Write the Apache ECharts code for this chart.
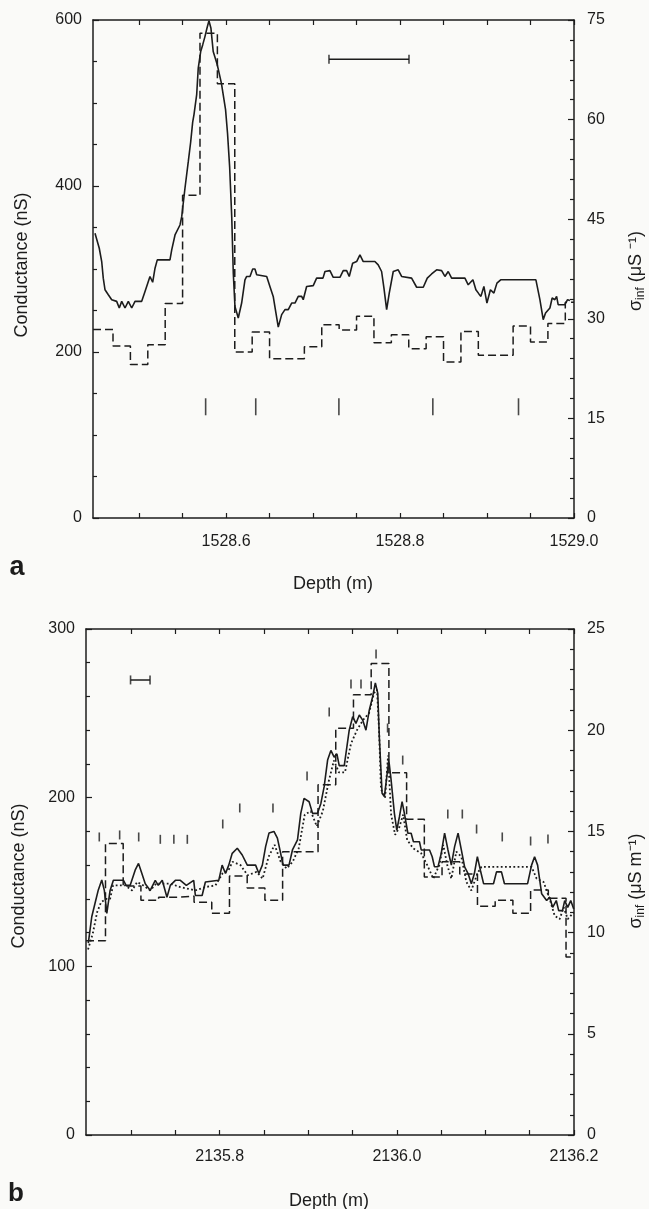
<!DOCTYPE html>
<html><head><meta charset="utf-8">
<script src="https://cdn.jsdelivr.net/npm/echarts@6/dist/echarts.min.js"></script>
<style>html,body{margin:0;padding:0;background:#fafaf8;}#c{width:649px;height:1209px;}</style>
</head><body><div id="c"></div>
<script>
// ---------- Panel a data ----------
const A_X_MIN = 1528.447, A_X_MAX = 1529.0;
const A_X_TICKS = [1528.5,1528.55,1528.6,1528.65,1528.7,1528.75,1528.8,1528.85,1528.9,1528.95,1529.0];
const A_X_LABELS = [1528.6,1528.8,1529.0];
// high-resolution conductance (nS)
const SOLID_A = [
[1528.4493,343],[1528.4513,341],[1528.4542,325],[1528.4570,309],[1528.4588,289],[1528.4608,275],[1528.4646,269],[1528.4685,263],[1528.4742,261],[1528.4772,253],
[1528.4800,261],[1528.4838,253],[1528.4876,261],[1528.4915,253],[1528.4953,261],[1528.5030,261],[1528.5068,273],[1528.5106,285],[1528.5125,291],[1528.5156,284],
[1528.5183,301],[1528.5209,311],[1528.5355,311],[1528.5375,323],[1528.5413,341],[1528.5470,353],[1528.5490,363],[1528.5527,397],[1528.5565,429],[1528.5593,453],
[1528.5616,477],[1528.5631,486],[1528.5662,510],[1528.5680,542],[1528.5708,562],[1528.5731,570],[1528.5757,580],[1528.5780,590],[1528.5803,599],[1528.5826,590],
[1528.5852,562],[1528.5899,546],[1528.5946,524],[1528.5994,492],[1528.6017,463],[1528.6041,423],[1528.6065,363],[1528.6083,295],[1528.6102,255],[1528.6140,241],
[1528.6160,241],[1528.6179,259],[1528.6217,287],[1528.6237,291],[1528.6275,291],[1528.6306,300],[1528.6332,300],[1528.6352,293],[1528.6467,291],[1528.6504,279],
[1528.6542,267],[1528.6573,247],[1528.6600,230],[1528.6639,245],[1528.6677,251],[1528.6715,251],[1528.6754,259],[1528.6792,259],[1528.6830,267],[1528.6869,267],
[1528.6887,263],[1528.6926,279],[1528.7002,280],[1528.7041,289],[1528.7114,289],[1528.7137,297],[1528.7194,298],[1528.7232,290],[1528.7309,290],[1528.7347,298],
[1528.7386,298],[1528.7416,291],[1528.7455,307],[1528.7501,309],[1528.7539,317],[1528.7559,318],[1528.7577,309],[1528.7711,309],[1528.7749,305],[1528.7788,297],
[1528.7815,277],[1528.7846,251],[1528.7876,271],[1528.7922,297],[1528.7979,299],[1528.8018,291],[1528.8133,289],[1528.8191,278],[1528.8267,278],[1528.8313,289],
[1528.8363,294],[1528.8421,299],[1528.8478,298],[1528.8516,291],[1528.8554,297],[1528.8593,289],[1528.8746,289],[1528.8784,281],[1528.8803,280],[1528.8838,287],
[1528.8872,275],[1528.8907,270],[1528.8930,267],[1528.8964,279],[1528.8999,259],[1528.9039,275],[1528.9079,271],[1528.9114,283],[1528.9157,287],[1528.9562,287],
[1528.9608,263],[1528.9646,239],[1528.9673,247],[1528.9723,253],[1528.9749,265],[1528.9780,263],[1528.9800,267],[1528.9818,257],[1528.9895,257],[1528.9926,263],
[1528.9953,262]
];
// 2 cm sigma_inf steps (µS m-1): start depth of each step
const DASH_A_START = [1528.447,1528.47,1528.49,1528.51,1528.53,1528.55,1528.57,1528.59,1528.61,1528.63,1528.65,1528.67,1528.69,1528.71,
  1528.73,1528.75,1528.77,1528.79,1528.81,1528.83,1528.85,1528.87,1528.89,1528.91,1528.93,1528.95,1528.97,1528.99];
const DASH_A_SIGMA = [28.4,25.9,23.1,26.1,32.3,48.6,73.0,65.4,25.0,28.0,24.0,24.0,25.8,29.1,
  28.3,30.4,26.4,27.6,25.5,27.3,23.5,28.1,24.5,24.5,28.9,26.5,29.3,32.5];
const MARK_A = [[1528.5765,134],[1528.6341,134],[1528.7297,134],[1528.8377,134],[1528.9362,134]];
const ERR_A = [[1528.7183,552.6],[1528.8103,552.6]];

// ---------- Panel b data ----------
const B_X_MIN = 2135.649, B_X_MAX = 2136.2;
const B_X_TICKS = [2135.7,2135.75,2135.8,2135.85,2135.9,2135.95,2136.0,2136.05,2136.1,2136.15,2136.2];
const B_X_LABELS = [2135.8,2136.0,2136.2];
const SOLID_B = [
[2135.6516,113.7],[2135.6555,129.4],[2135.6592,137.4],[2135.6629,145.3],[2135.6668,151.2],[2135.6697,145],[2135.6725,131.4],[2135.6762,145],[2135.6799,151],[2135.6913,151],
[2135.6943,148],[2135.6989,148],[2135.7045,157],[2135.7083,161],[2135.7121,155],[2135.7159,149],[2135.7215,145],[2135.7272,151],[2135.7306,148],[2135.7351,151],
[2135.7404,141],[2135.7442,148],[2135.7499,151],[2135.7555,151],[2135.7623,148],[2135.7706,151],[2135.7725,142],[2135.7801,142],[2135.7838,150],[2135.7989,151],
[2135.8027,160],[2135.8065,155],[2135.8102,160],[2135.8141,167],[2135.8198,170],[2135.8254,166],[2135.8311,160],[2135.8405,160],[2135.8442,155],[2135.8481,160],
[2135.8518,171],[2135.8556,179],[2135.8612,180],[2135.8651,176],[2135.8688,167],[2135.8714,160],[2135.8782,160],[2135.8821,169],[2135.8878,175],[2135.8915,190.7],
[2135.8952,199.6],[2135.9009,197.6],[2135.9048,190.7],[2135.9104,190.7],[2135.9142,196.6],[2135.9179,206.5],[2135.9218,222.3],[2135.9255,228],[2135.9292,224],[2135.9323,226],
[2135.9349,219],[2135.9406,219],[2135.9462,240],[2135.9501,248],[2135.9538,244],[2135.9576,249],[2135.9614,246],[2135.9651,240],[2135.9689,252],[2135.9727,260],
[2135.9757,268],[2135.9784,262],[2135.9802,236],[2135.9833,202.6],[2135.9859,200.6],[2135.9886,212.4],[2135.9909,222.3],[2135.9935,210.5],[2135.9972,190.7],[2135.9999,180.8],
[2136.0029,188.7],[2136.0059,197.6],[2136.0085,190.7],[2136.0124,178.9],[2136.0161,178.9],[2136.0187,173.9],[2136.0255,173.9],[2136.0275,169],[2136.0369,169],[2136.0399,165],
[2136.0425,159],[2136.0464,159],[2136.0501,167],[2136.0539,179],[2136.0577,169],[2136.0615,160],[2136.0652,171],[2136.0691,179],[2136.0728,169],[2136.0765,159],
[2136.0804,155],[2136.0841,149],[2136.0875,155],[2136.0909,165],[2136.0943,157],[2136.0979,149],[2136.1091,149],[2136.1125,156],[2136.1181,156],[2136.1215,149],
[2136.1476,149],[2136.1521,160],[2136.1555,165],[2136.1589,160],[2136.1635,143],[2136.1691,139],[2136.1725,141],[2136.1759,135],[2136.1800,139],[2136.1827,133],
[2136.1870,133],[2136.1895,139],[2136.1929,135],[2136.1963,139],[2136.1997,134]
];
const DOT_B = [
[2135.6513,110],[2135.6569,120],[2135.6615,132],[2135.6660,138],[2135.6717,140],[2135.6762,140],[2135.6796,148],[2135.6932,148],[2135.7011,145],[2135.7068,150],
[2135.7136,148],[2135.7215,145],[2135.7283,149],[2135.7442,149],[2135.7555,147],[2135.7725,145],[2135.7838,147],[2135.7952,148],[2135.8031,155],[2135.8099,157],
[2135.8144,162],[2135.8235,160],[2135.8314,154],[2135.8416,156],[2135.8484,152],[2135.8552,165],[2135.8620,172],[2135.8688,162],[2135.8756,158],[2135.8824,162],
[2135.8892,170],[2135.8960,190],[2135.9028,192],[2135.9096,183],[2135.9164,192],[2135.9232,210],[2135.9289,222],[2135.9346,215],[2135.9414,215],[2135.9482,232],
[2135.9549,240],[2135.9617,246],[2135.9685,250],[2135.9742,262],[2135.9776,264],[2135.9799,240],[2135.9821,205],[2135.9867,200],[2135.9901,225],[2135.9935,190],
[2135.9980,178],[2136.0025,182],[2136.0071,190],[2136.0116,175],[2136.0184,170],[2136.0275,167],[2136.0343,160],[2136.0411,152],[2136.0479,160],[2136.0524,172],
[2136.0569,160],[2136.0615,152],[2136.0671,168],[2136.0728,165],[2136.0785,150],[2136.0841,145],[2136.0909,155],[2136.0955,159],[2136.1521,159],[2136.1578,152],
[2136.1657,150],[2136.1725,140],[2136.1782,130],[2136.1838,128],[2136.1884,135],[2136.1929,128],[2136.1997,132]
];
const DASH_B_START = [2135.649,2135.671,2135.691,2135.711,2135.731,2135.751,2135.771,2135.791,2135.811,2135.831,2135.851,2135.871,2135.891,2135.911,
  2135.931,2135.951,2135.971,2135.991,2136.011,2136.031,2136.051,2136.071,2136.091,2136.111,2136.131,2136.151,2136.171,2136.191];
const DASH_B_SIGMA = [9.6,14.4,12.3,11.6,11.75,11.8,11.5,10.95,12.8,12.2,11.6,14.0,14.0,17.3,
  20.1,21.75,23.3,17.9,15.6,12.75,13.5,12.9,11.3,11.6,10.95,12.1,11.7,8.8];
const MARK_B = [[2135.664,176.7],[2135.687,177.9],[2135.7085,176.7],[2135.7329,175.3],[2135.7482,175.3],[2135.7634,175.3],[2135.8034,184.4],[2135.8226,193.9],
  [2135.8601,193.9],[2135.8986,212.9],[2135.9236,250.8],[2135.9482,267.4],[2135.9595,267.4],[2135.9765,285.2],[2135.9895,241.3],[2136.0066,222.3],
  [2136.0575,190.3],[2136.0739,190.3],[2136.09,181.4],[2136.119,176.7],[2136.151,174.3],[2136.1706,175.5]];
const ERR_B = [[2135.6993,269.8],[2135.7213,269.8]];

// ---------- chart ----------
const INK = '#1c1c1c';
const FONT = '"Liberation Sans", Arial, Helvetica, sans-serif';
const axLine = {show:true, onZero:false, lineStyle:{color:INK, width:1.5}};

function stepData(starts, vals, xmax){
  const d = starts.map((s,i)=>[s, vals[i]]);
  d.push([xmax, vals[vals.length-1]]);
  return d;
}
function xAxes(gi, min, max, ticks, labels, margin){
  const base = {type:'value', gridIndex:gi, min, max, axisLine:axLine, splitLine:{show:false}};
  return [
    Object.assign({}, base, {position:'bottom',
      axisTick:{show:true, inside:true, length:5, customValues:ticks, lineStyle:{color:INK,width:1.2}},
      axisLabel:{show:true, customValues:labels, formatter:v=>Number(v).toFixed(1), margin, fontSize:16, fontFamily:FONT, color:INK}}),
    Object.assign({}, base, {position:'top',
      axisTick:{show:true, inside:true, length:5, customValues:ticks, lineStyle:{color:INK,width:1.2}},
      axisLabel:{show:false}})
  ];
}
function yAxis(gi, pos, max, interval, split, margin){
  return {type:'value', gridIndex:gi, position:pos, min:0, max, interval,
    axisLine:axLine, splitLine:{show:false}, minorSplitLine:{show:false},
    axisTick:{show:true, inside:true, length:6, lineStyle:{color:INK,width:1.2}},
    minorTick:{show:true, splitNumber:split, length:4, lineStyle:{color:INK,width:1.2}},
    axisLabel:{margin, fontSize:16, fontFamily:FONT, color:INK}};
}
const lineBase = {type:'line', showSymbol:false, symbol:'none', silent:true, animation:false};
function lineS(xi, yi, data, type, width, step){
  const s = Object.assign({}, lineBase, {xAxisIndex:xi, yAxisIndex:yi, data,
    lineStyle:{color:INK, width, type}});
  if (step) s.step = step;
  return s;
}
function marks(xi, yi, data, h){
  return {type:'scatter', xAxisIndex:xi, yAxisIndex:yi, data, symbol:'rect', symbolSize:[1.6,h],
    itemStyle:{color:INK}, silent:true};
}

const chart = echarts.init(document.getElementById('c'), null, {renderer:'canvas'});
const sub = (main, unit, cx, cy) => ({type:'text', x:cx, y:cy, rotation:Math.PI/2,
  style:{text:'{a|σ}{s|inf}{a| ' + unit + '}', align:'center', verticalAlign:'middle', fill:INK,
    rich:{a:{fontSize:18, fontFamily:FONT, fill:INK, lineHeight:22}, s:{fontSize:12, fontFamily:FONT, fill:INK, lineHeight:22, padding:[9,0,0,0]}}}});
const txt = (t, cx, cy, size, rot, weight) => ({type:'text', x:cx, y:cy, rotation:rot||0,
  style:{text:t, align:'center', verticalAlign:'middle', fill:INK, font:(weight||'normal')+' '+size+'px '+FONT}});

chart.setOption({
  backgroundColor:'#fafaf8',
  animation:false,
  grid:[{left:93, top:20, width:481, height:498}, {left:86, top:629, width:488, height:506}],
  xAxis:[].concat(xAxes(0, A_X_MIN, A_X_MAX, A_X_TICKS, A_X_LABELS, 16), xAxes(1, B_X_MIN, B_X_MAX, B_X_TICKS, B_X_LABELS, 14)),
  yAxis:[yAxis(0,'left',600,200,4,11), yAxis(0,'right',75,15,5,13), yAxis(1,'left',300,100,5,11), yAxis(1,'right',25,5,5,13)],
  series:[
    lineS(0,0,SOLID_A,'solid',1.6),
    lineS(0,1,stepData(DASH_A_START, DASH_A_SIGMA, A_X_MAX),[8,4],1.5,'end'),
    marks(0,0,MARK_A,17),
    lineS(0,0,ERR_A,'solid',1.5),
    marks(0,0,ERR_A,9),
    lineS(2,2,SOLID_B,'solid',1.6),
    lineS(2,2,DOT_B,[1.8,2.4],1.8),
    lineS(2,3,stepData(DASH_B_START, DASH_B_SIGMA, B_X_MAX),[8,4],1.5,'end'),
    marks(2,2,MARK_B,9),
    lineS(2,2,ERR_B,'solid',1.5),
    marks(2,2,ERR_B,9)
  ],
  graphic:[
    txt('Conductance (nS)', 22, 265, 18, Math.PI/2),
    sub('σ', '(μS ⁻¹)', 636, 271),
    txt('Depth (m)', 333, 584, 18),
    txt('a', 17, 568, 27, 0, 'bold'),
    txt('Conductance (nS)', 19, 876, 18, Math.PI/2),
    sub('σ', '(μS m⁻¹)', 636, 881),
    txt('Depth (m)', 329, 1201, 18),
    txt('b', 16, 1194, 26, 0, 'bold')
  ]
});
</script></body></html>
